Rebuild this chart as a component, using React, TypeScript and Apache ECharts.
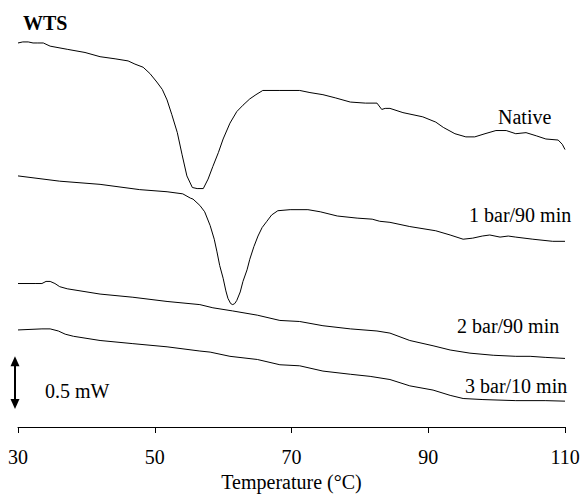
import React, { useEffect, useRef } from "react";
import * as echarts from "echarts";

const xTicks = [30, 50, 70, 90, 110];

const nativeCurve: [number, number][] = [
  [30.0, 3.64], [30.7, 3.65], [31.5, 3.65], [32.2, 3.64], [32.9, 3.64], [33.7, 3.64], [34.7, 3.61],
  [37.2, 3.58], [39.8, 3.55], [42.0, 3.51], [44.2, 3.49], [46.1, 3.47], [47.1, 3.44], [48.3, 3.41],
  [49.3, 3.35], [50.3, 3.27], [51.1, 3.2], [51.8, 3.1], [52.5, 2.96], [53.3, 2.79], [54.0, 2.58],
  [54.7, 2.38], [55.5, 2.27], [56.2, 2.26], [57.1, 2.26], [57.8, 2.35], [58.5, 2.47], [59.3, 2.6],
  [60.0, 2.73], [61.0, 2.88], [62.0, 2.99], [62.9, 3.05], [63.9, 3.11], [64.8, 3.15], [65.8, 3.19],
  [68.3, 3.19], [71.2, 3.19], [72.7, 3.17], [74.6, 3.15], [76.4, 3.12], [78.6, 3.08], [80.8, 3.07],
  [82.5, 3.07], [83.2, 3.01], [83.7, 3.02], [84.4, 3.02], [86.3, 2.98], [89.2, 2.94], [91.1, 2.89],
  [92.2, 2.84], [93.9, 2.78], [95.5, 2.75], [96.8, 2.75], [98.3, 2.78], [99.9, 2.81], [101.4, 2.81],
  [102.8, 2.78], [104.3, 2.79], [105.8, 2.76], [107.2, 2.73], [109.0, 2.72], [109.6, 2.68], [110.0, 2.63],
];

const bar1Curve: [number, number][] = [
  [30.0, 2.38], [36.1, 2.33], [42.0, 2.3], [47.8, 2.25], [51.8, 2.23], [54.1, 2.21], [55.2, 2.17],
  [55.6, 2.16], [56.6, 2.1], [57.3, 2.04], [58.1, 1.91], [58.7, 1.78], [59.1, 1.66], [59.5, 1.53],
  [60.0, 1.41], [60.4, 1.29], [60.7, 1.22], [61.1, 1.17], [61.4, 1.16], [61.7, 1.17], [62.0, 1.2],
  [62.5, 1.28], [62.9, 1.38], [63.5, 1.49], [63.9, 1.59], [64.5, 1.71], [65.1, 1.81], [65.7, 1.89],
  [66.4, 1.95], [67.1, 2.01], [68.0, 2.05], [69.8, 2.06], [72.4, 2.06], [74.2, 2.04], [76.7, 2.0],
  [79.6, 1.98], [81.8, 1.97], [82.9, 1.95], [84.4, 1.94], [87.3, 1.9], [91.1, 1.86], [93.2, 1.82],
  [95.1, 1.78], [96.5, 1.79], [97.9, 1.81], [99.0, 1.82], [100.5, 1.8], [101.7, 1.81], [102.8, 1.8],
  [105.3, 1.78], [108.2, 1.76], [110.0, 1.76],
];

const bar2Curve: [number, number][] = [
  [30.0, 1.36], [32.5, 1.36], [33.5, 1.36], [34.1, 1.38], [34.7, 1.38], [35.4, 1.36], [36.1, 1.33],
  [37.2, 1.31], [42.0, 1.26], [46.8, 1.23], [51.8, 1.19], [56.6, 1.16], [58.5, 1.13], [61.4, 1.1],
  [65.0, 1.06], [68.3, 1.01], [71.2, 1.0], [74.6, 0.96], [78.6, 0.93], [82.5, 0.91], [84.4, 0.89],
  [87.3, 0.82], [90.7, 0.77], [93.2, 0.73], [96.1, 0.7], [99.5, 0.68], [102.8, 0.67], [104.9, 0.67],
  [107.1, 0.66], [110.0, 0.65],
];

const bar3Curve: [number, number][] = [
  [30.0, 0.92], [33.5, 0.93], [34.7, 0.93], [35.9, 0.91], [36.9, 0.88], [38.1, 0.86], [42.0, 0.82],
  [46.8, 0.79], [51.8, 0.76], [56.6, 0.72], [58.1, 0.71], [61.0, 0.67], [65.0, 0.64], [68.3, 0.59],
  [71.2, 0.58], [74.6, 0.53], [78.6, 0.5], [81.5, 0.48], [84.4, 0.45], [87.3, 0.39], [90.7, 0.35],
  [93.2, 0.3], [95.1, 0.27], [98.0, 0.26], [102.8, 0.25], [107.1, 0.25], [110.0, 0.245],
];

const scaleBarX = 29.56;
const scaleBarLow = 0.17;
const scaleBarSize = 0.5; // mW
const scaleBarLabel = "0.5 mW";

const curveLabels = ["Native", "1 bar/90 min", "2 bar/90 min", "3 bar/10 min"];
const titleText = "WTS";
const xAxisName = "Temperature (°C)";

const FONT = "'Liberation Serif', 'Times New Roman', serif";

export default function App() {
  const ref = useRef<HTMLDivElement>(null);

  useEffect(() => {
    if (!ref.current) return;
    const chart = echarts.init(ref.current, undefined, { renderer: "svg" });
    const lineStyle = { color: "#000", width: 1 };
    const curves = [nativeCurve, bar1Curve, bar2Curve, bar3Curve];
    const labelPos = [
      [498, 117],
      [469, 215],
      [457, 326],
      [465, 386],
    ];
    const textStyle = (size: number, weight: string = "normal") => ({
      fill: "#000",
      font: `${weight} ${size}px ${FONT}`,
      textVerticalAlign: "middle",
    });
    const barTop = scaleBarLow + scaleBarSize;

    chart.setOption({
      animation: false,
      backgroundColor: "#fff",
      grid: { left: 18, right: 18, top: 5, bottom: 68, containLabel: false },
      xAxis: {
        type: "value",
        min: xTicks[0],
        max: xTicks[xTicks.length - 1],
        interval: 20,
        name: xAxisName,
        nameLocation: "middle",
        nameGap: 45,
        nameTextStyle: { color: "#000", fontFamily: FONT, fontSize: 20 },
        axisLine: { show: true, lineStyle: { color: "#000", width: 1 } },
        axisTick: { show: true, inside: false, length: 6, lineStyle: { color: "#000" } },
        axisLabel: { color: "#000", fontFamily: FONT, fontSize: 20, margin: 20 },
        splitLine: { show: false },
      },
      yAxis: {
        type: "value",
        min: 0,
        max: 4,
        show: false,
        splitLine: { show: false },
      },
      series: [
        ...curves.map((c, i) => ({
          type: "line",
          name: curveLabels[i],
          data: c,
          showSymbol: false,
          symbol: "none",
          lineStyle,
          silent: true,
        })),
        {
          type: "custom",
          name: "scale-bar",
          silent: true,
          clip: false,
          data: [[scaleBarX, scaleBarLow, barTop]],
          renderItem: (params: any, api: any) => {
            const x = api.value(0);
            const top = api.coord([x, api.value(2)]);
            const bot = api.coord([x, api.value(1)]);
            const hw = 4.5;
            const hl = 10;
            return {
              type: "group",
              children: [
                {
                  type: "line",
                  shape: { x1: top[0], y1: top[1] + hl - 1, x2: bot[0], y2: bot[1] - hl + 1 },
                  style: { stroke: "#000", lineWidth: 2 },
                },
                {
                  type: "polygon",
                  shape: {
                    points: [
                      [top[0], top[1]],
                      [top[0] - hw, top[1] + hl],
                      [top[0] + hw, top[1] + hl],
                    ],
                  },
                  style: { fill: "#000" },
                },
                {
                  type: "polygon",
                  shape: {
                    points: [
                      [bot[0], bot[1]],
                      [bot[0] - hw, bot[1] - hl],
                      [bot[0] + hw, bot[1] - hl],
                    ],
                  },
                  style: { fill: "#000" },
                },
              ],
            };
          },
        },
      ],
      graphic: [
        { type: "text", left: 23, top: 13, style: { text: titleText, ...textStyle(20, "bold") } },
        { type: "text", x: 45, y: 391, style: { text: scaleBarLabel, ...textStyle(20) } },
        ...curveLabels.map((t, i) => ({
          type: "text",
          x: labelPos[i][0],
          y: labelPos[i][1],
          style: { text: t, ...textStyle(20) },
        })),
      ],
    });
    return () => chart.dispose();
  }, []);

  return (
    <div
      ref={ref}
      style={{ position: "fixed", left: 0, top: 0, width: 583, height: 497, background: "#fff" }}
    />
  );
}
